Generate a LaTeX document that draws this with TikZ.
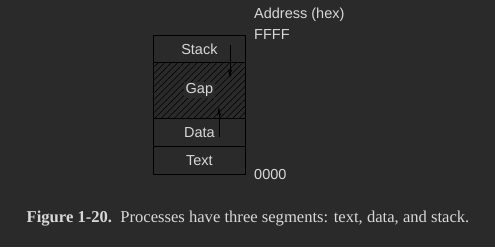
\documentclass[tikz,border=0pt]{standalone}
\usepackage{fontspec}
\setmainfont{Liberation Serif}
\setsansfont{Liberation Sans}
\usetikzlibrary{patterns.meta,arrows.meta}

\definecolor{bg}{HTML}{2A2A2A}
\definecolor{ink}{HTML}{D8D8D8}

\begin{document}
\begin{tikzpicture}[x=1pt, y=-1pt, font=\sffamily\fontsize{14.5}{16}\selectfont, text=ink,
    seg/.style={draw=black, line width=0.8pt, minimum width=92pt, inner sep=0pt, anchor=north west},
    addr/.style={anchor=base west, inner sep=0pt},
    growth/.style={-{Stealth[length=9pt,width=4pt]}, line width=0.7pt, black}]

   \fill[bg] (0,0) rectangle (495,247);
   \useasboundingbox (0,0) rectangle (495,247);

   % the four segments, top down
   \foreach \n/\t/\y/\h in {stack/Stack/35/27, gap/{}/62/56, data/Data/118/28, text/Text/146/28}
     \node [seg, minimum height=\h pt] (\n) at (153,\y) {\t};
   \fill[pattern={Lines[angle=45, distance=4.6pt, line width=0.5pt]}, pattern color=black]
     (gap.north west) rectangle (gap.south east);
   \draw[black, line width=0.8pt] (gap.north west) rectangle (gap.south east);
   \node [fill=bg, inner sep=1.5pt] (gapLabel) at (gap.center) {Gap};

   % stack grows down, data grows up
   \coordinate (sTop) at (230,45);
   \coordinate (sEnd) at (230,78);
   \coordinate (dTop) at (219,137);
   \coordinate (dEnd) at (219,107);
   \draw[growth] (sTop) -- (sEnd);
   \draw[growth] (dTop) -- (dEnd);

   \node [addr] (head) at (254,18) {Address (hex)};
   \node [addr] (hi) at (254,39) {FFFF};
   \node [addr] (lo) at (254,179) {0000};

   \node [font=\rmfamily\fontsize{16.6}{19}\selectfont, anchor=base] (cap) at (248,222)
     {\textbf{Figure 1-20.}\ \ Processes have three segments: text, data, and stack.};

\end{tikzpicture}
\end{document}
